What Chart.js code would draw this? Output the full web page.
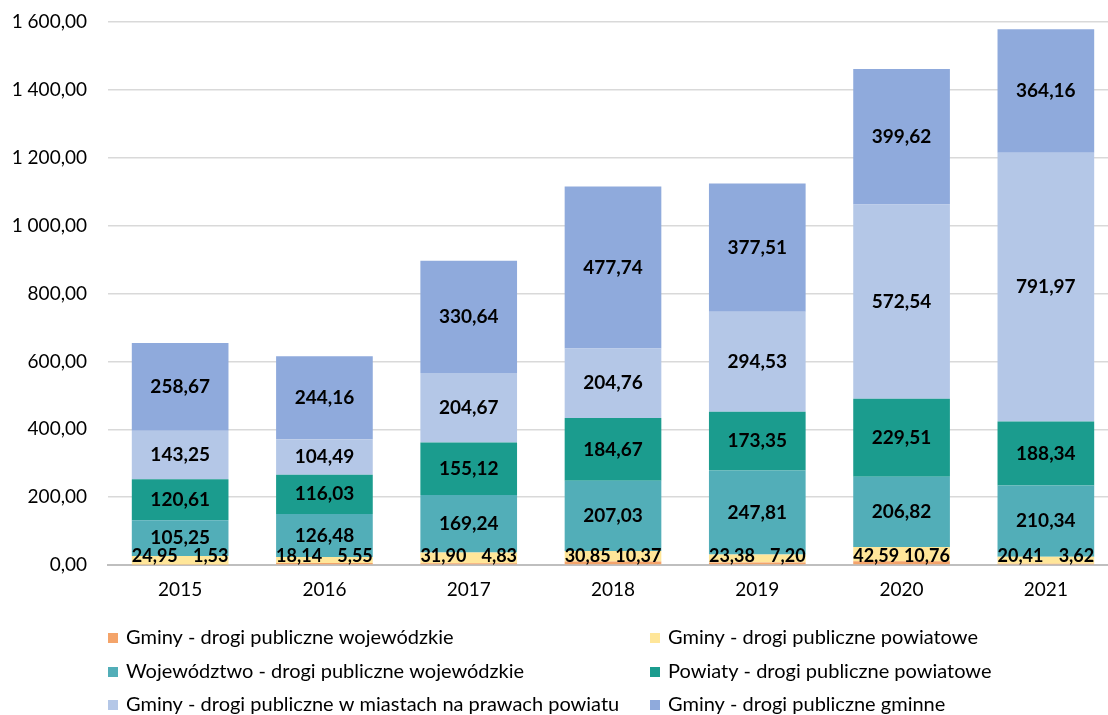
<!DOCTYPE html>
<html>
<head>
<meta charset="utf-8">
<script src="https://cdn.jsdelivr.net/npm/chart.js@4"></script>
<style>
  html, body { margin: 0; padding: 0; background: #fff; overflow: hidden; }
  #wrap { position: relative; width: 1118px; height: 715px; }
</style>
</head>
<body>
<div id="wrap"><canvas id="chart"></canvas></div>
<script>
// dane
var years = ['2015', '2016', '2017', '2018', '2019', '2020', '2021'];
var gminyWojewodzkie = [1.53, 5.55, 4.83, 10.37, 7.20, 10.76, 3.62];
var gminyPowiatowe = [24.95, 18.14, 31.90, 30.85, 23.38, 42.59, 20.41];
var wojewodztwo = [105.25, 126.48, 169.24, 207.03, 247.81, 206.82, 210.34];
var powiaty = [120.61, 116.03, 155.12, 184.67, 173.35, 229.51, 188.34];
var gminyMiasta = [143.25, 104.49, 204.67, 204.76, 294.53, 572.54, 791.97];
var gminyGminne = [258.67, 244.16, 330.64, 477.74, 377.51, 399.62, 364.16];

var seriesNames = [
    'Gminy - drogi publiczne wojewódzkie',
    'Gminy - drogi publiczne powiatowe',
    'Województwo - drogi publiczne wojewódzkie',
    'Powiaty - drogi publiczne powiatowe',
    'Gminy - drogi publiczne w miastach na prawach powiatu',
    'Gminy - drogi publiczne gminne'
];
var seriesColors = ['#F4A46A', '#FFE699', '#52AEB8', '#1B9C8E', '#B4C7E7', '#8FAADC'];
var seriesData = [gminyWojewodzkie, gminyPowiatowe, wojewodztwo, powiaty, gminyMiasta, gminyGminne];

var fmt = function(v) {
    var s = v.toFixed(2).replace('.', ',');
    var parts = s.split(',');
    parts[0] = parts[0].replace(/\B(?=(\d{3})+(?!\d))/g, ' ');
    return parts.join(',');
};

var datasets = [];
for (let i = 0; i < seriesData.length; i++) {
    datasets.push({
        label: seriesNames[i],
        data: seriesData[i],
        backgroundColor: seriesColors[i],
        borderWidth: 0,
        categoryPercentage: 1,
        barPercentage: 0.67
    });
}

var FONT = 'Lato, "Open Sans", sans-serif';

// etykiety danych
var labelsPlugin = {
    id: 'barLabels',
    afterDatasetsDraw(chart) {
        var ctx = chart.ctx;
        var zero = chart.scales.y.getPixelForValue(0);
        ctx.save();
        ctx.fillStyle = '#000';
        ctx.textBaseline = 'middle';
        chart.data.datasets.forEach(function(ds, di) {
            var meta = chart.getDatasetMeta(di);
            meta.data.forEach(function(bar, i) {
                var v = ds.data[i];
                var left = bar.x - bar.width / 2;
                var right = bar.x + bar.width / 2;
                if (di === 0) {
                    ctx.font = 'bold 18px ' + FONT;
                    ctx.textAlign = 'right';
                    ctx.fillText(fmt(v), right, zero - 9);
                } else if (di === 1) {
                    ctx.font = 'bold 18px ' + FONT;
                    ctx.textAlign = 'left';
                    ctx.fillText(fmt(v), left, zero - 9);
                } else {
                    ctx.font = 'bold 19px ' + FONT;
                    ctx.textAlign = 'center';
                    ctx.fillText(fmt(v), bar.x, (bar.y + bar.base) / 2);
                }
            });
        });
        ctx.restore();
    }
};

// legenda w dwóch kolumnach
var legendPlugin = {
    id: 'twoColLegend',
    afterDraw(chart) {
        var ctx = chart.ctx;
        var cols = [108, 650];
        var rows = [638, 672, 705];
        ctx.save();
        ctx.font = '20px ' + FONT;
        ctx.textBaseline = 'middle';
        ctx.textAlign = 'left';
        for (let i = 0; i < seriesNames.length; i++) {
            var x = cols[i % 2];
            var y = rows[Math.floor(i / 2)];
            ctx.fillStyle = seriesColors[i];
            ctx.fillRect(x, y - 5, 10, 10);
            ctx.fillStyle = '#000';
            ctx.fillText(seriesNames[i], x + 18, y);
        }
        ctx.restore();
    }
};

new Chart(document.getElementById('chart'), {
    type: 'bar',
    data: { labels: years, datasets: datasets },
    plugins: [labelsPlugin, legendPlugin],
    options: {
        responsive: true,
        maintainAspectRatio: false,
        animation: false,
        layout: { padding: { top: 22, right: 0, bottom: 105, left: 0 } },
        plugins: {
            legend: { display: false },
            tooltip: { enabled: false }
        },
        scales: {
            x: {
                stacked: true,
                grid: { display: false, drawTicks: false },
                border: { color: '#BFBFBF', width: 2 },
                ticks: { color: '#000', font: { family: FONT, size: 19 }, padding: 13 },
                afterFit(scale) { scale.height = 45; }
            },
            y: {
                stacked: true,
                min: 0,
                max: 1600,
                grid: { color: '#D9D9D9', drawTicks: false, lineWidth: 1.5 },
                border: { display: false },
                ticks: {
                    stepSize: 200,
                    color: '#000',
                    font: { family: FONT, size: 19 },
                    padding: 21,
                    callback: function(v) { return fmt(v); }
                },
                afterFit(scale) {
                    scale.width = 108;
                    scale.paddingTop = 0;
                    scale.paddingBottom = 0;
                }
            }
        }
    }
});
</script>
</body>
</html>
